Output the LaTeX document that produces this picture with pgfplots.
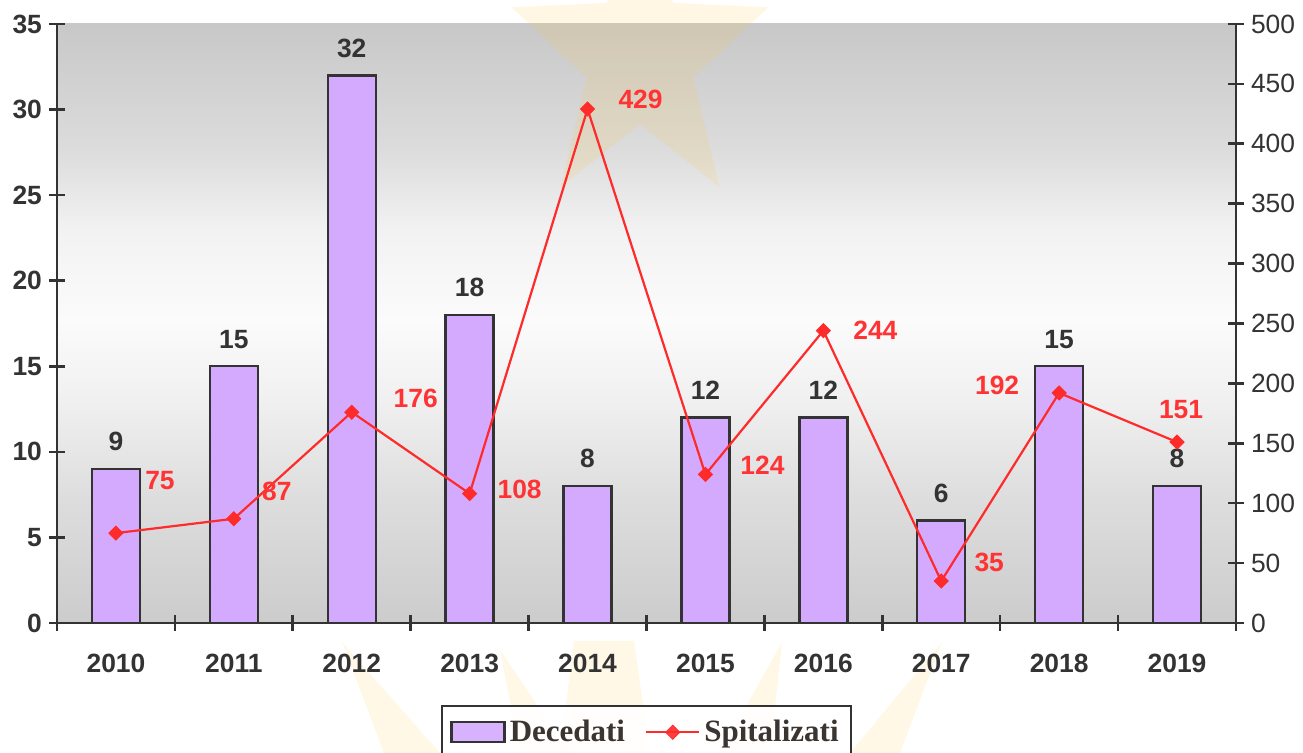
\documentclass[border=0pt]{standalone}
\usepackage{fontspec}
\setmainfont{Liberation Sans}
\newfontfamily\legfont{Liberation Serif}
\usepackage{pgfplots}
\usepackage{pgfplotstable}
\pgfplotsset{compat=1.18}
\usetikzlibrary{shapes.geometric}
\definecolor{barfill}{HTML}{D4AAFF}
\definecolor{dk}{HTML}{333333}
\definecolor{lred}{HTML}{FF2A2A}
\definecolor{tred}{HTML}{FF3333}
\definecolor{legtxt}{HTML}{3A3530}
\definecolor{gA}{HTML}{CCCCCC}
\definecolor{gB}{HTML}{DDDDDD}
\definecolor{gC}{HTML}{F0F0F0}
\definecolor{gD}{HTML}{FBFBFB}
\definecolor{gE}{HTML}{F2F2F2}
\definecolor{gF}{HTML}{DCDCDC}
\definecolor{gG}{HTML}{C8C8C8}
\definecolor{starcol}{HTML}{FFC83C}
\pgfdeclareverticalshading{bgshade}{100bp}{color(0bp)=(gA); color(25bp)=(gA); color(35.3bp)=(gB); color(43.6bp)=(gC); color(50.3bp)=(gD); color(57.8bp)=(gE); color(64.5bp)=(gF); color(75bp)=(gG); color(100bp)=(gG)}
\pgfplotsset{/pgf/number format/assume math mode=true}
\newcommand{\tickfont}{\fontsize{13.2}{15.5}\selectfont}
\pgfplotsset{
  barleg/.style={legend image code/.code={\draw[##1] (0pt,-5pt) rectangle (26.5pt,5pt);}},
  lineleg/.style={legend image code/.code={\draw[mark repeat=2,mark phase=2,##1] plot coordinates {(0pt,0pt) (13.25pt,0pt) (26.5pt,0pt)};}},
}

\pgfplotstableread{
x dec
0 9
1 15
2 32
3 18
4 8
5 12
6 12
7 6
8 15
9 8
}\decdata

\pgfplotstableread{
x spit dx dy
0 75 22 26.5
1 87 21.5 13.5
2 176 32 7
3 108 25 2
4 429 26.5 5
5 124 28.5 4.5
6 244 26 0
7 35 24 9.5
8 192 -31 4
9 151 2 16.5
}\spitdata

\begin{document}
\begin{tikzpicture}
\path[use as bounding box] (0,0) rectangle (651.5pt,376.5pt);
% faint decorative rays below the plot
\begin{scope}[fill=starcol, opacity=0.13]
\fill (171pt,55.5pt) -- (220pt,0pt) -- (192pt,0pt) -- cycle;
\fill (250pt,51.5pt) -- (285pt,0pt) -- (260pt,0pt) -- cycle;
\fill (287pt,56pt) -- (317pt,56pt) -- (325pt,0pt) -- (280pt,0pt) -- cycle;
\fill (391pt,55.5pt) -- (385pt,0pt) -- (360pt,0pt) -- cycle;
\fill (471pt,55.5pt) -- (450pt,0pt) -- (425pt,0pt) -- cycle;
\end{scope}
\begin{axis}[
  at={(28.5pt,65pt)}, anchor=south west,
  scale only axis, width=589.5pt, height=299.5pt,
  xmin=-0.5, xmax=9.5, ymin=0, ymax=35,
  axis y line*=left, axis x line*=bottom,
  axis line style={dk, line width=1.3pt},
  ytick={0,5,...,35},
  xtick={-0.5,0.5,...,9.5}, xticklabels={},
  extra x ticks={0,1,2,3,4,5,6,7,8,9},
  extra x tick labels={2010,2011,2012,2013,2014,2015,2016,2017,2018,2019},
  extra x tick style={major tick length=0pt, xticklabel style={yshift=-12pt, font=\tickfont\bfseries, text=dk}},
  tick align=center, major tick length=8pt,
  tick style={dk, line width=1.3pt},
  yticklabel style={font=\tickfont\bfseries, text=dk},
  axis background/.style={shade, shading=bgshade},
  legend style={at={(0.5,0)}, anchor=north, yshift=-41pt,
    legend columns=-1, draw=dk, line width=1pt, fill=white, fill opacity=0.9, text opacity=1,
    font=\legfont\fontsize{15.5}{18}\selectfont\bfseries, text=legtxt,
    inner xsep=4pt, inner ysep=5pt,
    /tikz/every even column/.append style={column sep=8pt}},
]
\addplot[ybar, bar width=24pt, fill=barfill, draw=dk, line width=1.2pt,
  nodes near coords,
  nodes near coords style={font=\tickfont\bfseries, text=dk, yshift=5pt},
  barleg]
  table[x=x,y=dec]{\decdata};
\addlegendentry{Decedati}
\addlegendimage{lred, line width=1.1pt, mark=square*, mark size=2.5pt,
  mark options={rotate=45, fill=lred, line width=0.4pt}, lineleg}
\addlegendentry{Spitalizati}
\end{axis}
\node[star, star points=5, star point ratio=2.4, minimum size=135pt, inner sep=0pt,
  fill=starcol, opacity=0.14, yscale=1.19] at (320pt,348pt) {};
\begin{axis}[
  at={(28.5pt,65pt)}, anchor=south west,
  scale only axis, width=589.5pt, height=299.5pt,
  xmin=-0.5, xmax=9.5, ymin=0, ymax=500,
  axis y line*=right, axis x line=none,
  axis line style={dk, line width=1.3pt},
  ytick={0,50,...,500},
  tick align=center, major tick length=8pt,
  tick style={dk, line width=1.3pt},
  yticklabel style={font=\tickfont, text=dk},
]
\addplot[lred, line width=1.1pt, mark=square*, mark size=2.5pt,
  mark options={rotate=45, fill=lred, line width=0.4pt},
  nodes near coords,
  visualization depends on={\thisrow{dx} \as \myDX},
  visualization depends on={\thisrow{dy} \as \myDY},
  nodes near coords style={anchor=center, xshift=\myDX pt, yshift=\myDY pt, text=tred, font=\tickfont\bfseries}]
  table[x=x,y=spit]{\spitdata};
\end{axis}
\end{tikzpicture}
\end{document}
